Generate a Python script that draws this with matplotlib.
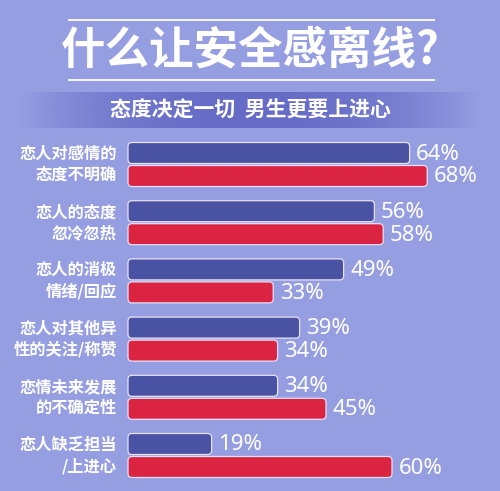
import numpy as np
import matplotlib
matplotlib.use('Agg')
import matplotlib.pyplot as plt
from matplotlib.patches import FancyBboxPatch

plt.rcParams['font.family'] = ['Noto Sans CJK SC', 'DejaVu Sans']

title = '什么让安全感离线?'
subtitle = '态度决定一切  男生更要上进心'
categories = ['恋人对感情的\n态度不明确', '恋人的态度\n忽冷忽热', '恋人的消极\n情绪/回应',
              '恋人对其他异\n性的关注/称赞', '恋情未来发展\n的不确定性', '恋人缺乏担当\n/上进心']
blue_vals = [64, 56, 49, 39, 34, 19]
red_vals = [68, 58, 33, 34, 45, 60]

BG = '#969ee2'
BLUE = '#4a52a3'
RED = '#da2442'

W, H = 500, 491
x0, scale = 128, 4.4  # pixel where bars start, pixels per percent

fig = plt.figure(figsize=(W / 100, H / 100), dpi=100, facecolor=BG)
ax = fig.add_axes([0, 0, 1, 1])
ax.set_xlim(-x0 / scale, (W - x0) / scale)
ax.set_ylim(H, 0)
ax.axis('off')

def px(x):
    return (x - x0) / scale

# title with rules
for yl in (20, 80):
    ax.plot([px(68), px(435)], [yl, yl], color='white', lw=1.3, solid_capstyle='butt')
ax.text(px(250), 50, title, color='white', fontsize=32, fontweight='bold',
        ha='center', va='center')

# subtitle band, darker in the middle
t = np.linspace(-1, 1, 300)
alpha = np.clip(1 - np.abs(t) ** 2.2, 0, 1)
band = np.zeros((1, len(t), 4))
band[..., :3] = matplotlib.colors.to_rgb('#5a5fbf')
band[..., 3] = alpha * 0.8
ax.imshow(band, extent=[px(20), px(480), 128, 92], aspect='auto', zorder=1)
ax.text(px(250), 110, subtitle, color='white', fontsize=15, fontweight='bold',
        ha='center', va='center', zorder=2)

# bars
bar_h = 21
centers = 164.5 + 58.2 * np.arange(len(categories))
yb = centers - bar_h / 2 - 1
yr = centers + bar_h / 2 + 1
rects_b = ax.barh(yb, blue_vals, height=bar_h, left=0, color='none')
rects_r = ax.barh(yr, red_vals, height=bar_h, left=0, color='none')

for rects, col in ((rects_b, BLUE), (rects_r, RED)):
    for r in rects:
        x, y = r.get_x(), r.get_y()
        w, h = r.get_width(), r.get_height()
        p = FancyBboxPatch((x, y), w, h,
                           boxstyle='round,pad=0,rounding_size=0.9',
                           mutation_aspect=scale,
                           facecolor=col, edgecolor='#e8e0f4', lw=0.9, zorder=3)
        ax.add_patch(p)

for i, c in enumerate(centers):
    ax.text(px(117), c, categories[i], color='white', fontsize=11.7, fontweight='bold',
            ha='right', va='center', linespacing=1.35)
    ax.text(blue_vals[i] + 1.5, yb[i] + 1, f'{blue_vals[i]}%', color='white',
            fontsize=16, fontweight='medium', family=['Noto Sans', 'DejaVu Sans'],
            ha='left', va='center')
    ax.text(red_vals[i] + 1.5, yr[i] + 1, f'{red_vals[i]}%', color='white',
            fontsize=16, fontweight='medium', family=['Noto Sans', 'DejaVu Sans'],
            ha='left', va='center')

fig.savefig('out.png', dpi=100, facecolor=BG)
